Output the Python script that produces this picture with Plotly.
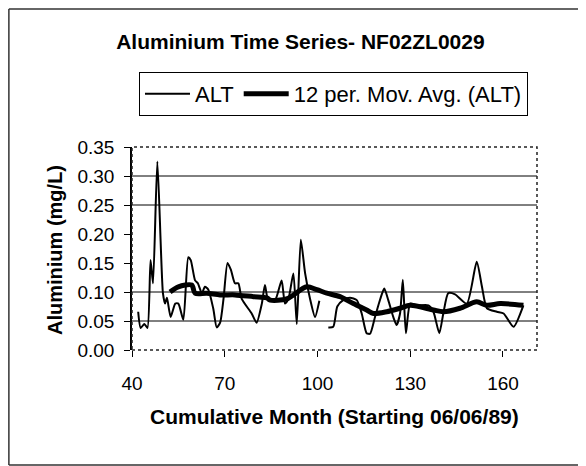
import plotly.graph_objects as go

# ALT series (cumulative month, mg/L); None marks the gap in sampling
alt_month = [42.0, 42.8, 44.0, 45.0, 46.0, 46.8, 48.2, 50.0, 50.7, 51.3, 52.5, 54.0, 55.0,
             56.6, 58.2, 59.0, 60.4, 61.3, 62.6, 63.6, 64.7, 66.3, 67.4, 68.5, 69.6, 70.9,
             72.0, 73.3, 74.4, 75.5, 78.7, 80.3, 82.0, 83.0, 84.1, 86.3, 88.4, 89.5, 90.6,
             92.2, 93.3, 94.6, 96.0, 97.6, 99.2, 100.6, 102.0, 103.5, 105.1, 106.4, 108.3,
             110.5, 112.7, 114.3, 115.9, 117.0, 118.6, 120.3, 121.6, 122.9, 124.5, 125.6,
             126.7, 127.6, 128.6, 130.0, 132.1, 135.9, 137.5, 139.4, 140.7, 142.3, 144.5,
             148.3, 151.5, 153.2, 154.8, 158.0, 160.2, 163.4, 166.6]
alt_value = [0.066, 0.038, 0.045, 0.038, 0.155, 0.115, 0.325, 0.098, 0.080, 0.090, 0.057,
             0.080, 0.080, 0.052, 0.160, 0.155, 0.120, 0.115, 0.098, 0.109, 0.104, 0.071,
             0.039, 0.047, 0.088, 0.150, 0.138, 0.115, 0.115, 0.088, 0.063, 0.047, 0.080,
             0.112, 0.085, 0.086, 0.120, 0.080, 0.088, 0.132, 0.045, 0.190, 0.132, 0.088,
             0.057, 0.085, None, 0.039, 0.040, 0.075, 0.086, 0.090, 0.086, 0.063, 0.029,
             0.028, 0.057, 0.088, 0.106, 0.086, 0.057, 0.043, 0.063, 0.121, 0.029, 0.080,
             0.077, 0.077, 0.066, 0.029, 0.063, 0.098, 0.096, 0.080, 0.152, 0.109, 0.072,
             0.066, 0.063, 0.040, 0.077]

# 12 period moving average
ma_month = [52.3, 55.0, 59.3, 60.4, 64.2, 68.5, 73.3, 79.3, 83.6, 84.7, 90.0, 96.5, 99.8,
            103.0, 107.3, 111.6, 115.9, 118.1, 122.4, 126.7, 130.0, 137.5, 140.7, 146.1,
            151.5, 154.8, 159.1, 166.6]
ma_value = [0.100, 0.109, 0.112, 0.098, 0.098, 0.095, 0.095, 0.092, 0.090, 0.086, 0.088,
            0.109, 0.104, 0.098, 0.092, 0.080, 0.069, 0.063, 0.066, 0.072, 0.077, 0.069,
            0.066, 0.072, 0.083, 0.077, 0.080, 0.077]

x_ticks = [40, 70, 100, 130, 160]
y_ticks = [0.00, 0.05, 0.10, 0.15, 0.20, 0.25, 0.30, 0.35]
grid_values = [0.05, 0.10, 0.25, 0.30]

FONT = "Liberation Sans, Arial, sans-serif"

fig = go.Figure()
fig.add_trace(go.Scatter(x=alt_month, y=alt_value, mode="lines", name="ALT",
                         line=dict(color="black", width=2, shape="spline", smoothing=0.6),
                         connectgaps=False))
fig.add_trace(go.Scatter(x=ma_month, y=ma_value, mode="lines", name="12 per. Mov. Avg. (ALT)",
                         line=dict(color="black", width=5, shape="spline", smoothing=0.8)))

shapes = []
for g in grid_values:
    shapes.append(dict(type="line", xref="paper", x0=0, x1=1, yref="y", y0=g, y1=g,
                       line=dict(color="black", width=1), layer="below"))
# dotted plot-area border
shapes.append(dict(type="rect", xref="paper", yref="paper", x0=0, x1=1, y0=0, y1=1,
                   line=dict(color="#222", width=1.5, dash="dot")))
# outer chart frame (top, left, bottom)
shapes.append(dict(type="line", xref="paper", yref="paper", x0=-0.304, x1=1.2, y0=1.68, y1=1.68,
                   line=dict(color="#333", width=1.5)))
shapes.append(dict(type="line", xref="paper", yref="paper", x0=-0.304, x1=-0.304, y0=1.68, y1=-0.5665,
                   line=dict(color="#333", width=1.5)))
shapes.append(dict(type="line", xref="paper", yref="paper", x0=-0.304, x1=1.2, y0=-0.5665, y1=-0.5665,
                   line=dict(color="#333", width=1.5)))

fig.update_layout(
    width=586, height=466,
    margin=dict(l=124, r=57, t=139, b=124),
    paper_bgcolor="white", plot_bgcolor="white",
    font=dict(family=FONT, size=19, color="black"),
    title=dict(text="<b>Aluminium Time Series- NF02ZL0029</b>", x=0.499, xanchor="center",
               y=0.927, yanchor="middle", font=dict(family=FONT, size=21, color="black")),
    showlegend=True,
    legend=dict(orientation="h", x=0.4975, xanchor="center", y=1.37, yanchor="top",
                bordercolor="black", borderwidth=1, bgcolor="white",
                font=dict(family=FONT, size=22, color="black"),
                itemwidth=45, tracegroupgap=0),
    shapes=shapes,
    annotations=[
        dict(text="<b>Cumulative Month (Starting 06/06/89)</b>", xref="paper", yref="paper",
             x=0.501, y=-0.33, xanchor="center", yanchor="middle", showarrow=False,
             font=dict(family=FONT, size=21, color="black")),
        dict(text="<b>Aluminium (mg/L)</b>", xref="paper", yref="paper",
             x=-0.19, y=0.493, xanchor="center", yanchor="middle", showarrow=False,
             textangle=-90, font=dict(family=FONT, size=20, color="black")),
    ],
)
fig.update_xaxes(range=[40, 171], tickvals=x_ticks, ticktext=[str(v) for v in x_ticks],
                 showgrid=False, zeroline=False, showline=False,
                 ticks="outside", ticklen=6, tickcolor="black", ticklabelstandoff=10,
                 tickfont=dict(family=FONT, size=19, color="black"))
fig.update_yaxes(range=[0, 0.35], tickvals=y_ticks, ticktext=[f"{v:.2f}" for v in y_ticks],
                 showgrid=False, zeroline=False, showline=True, linecolor="black", linewidth=1.5,
                 ticks="outside", ticklen=6, tickcolor="black", ticklabelstandoff=6,
                 tickfont=dict(family=FONT, size=19, color="black"))

fig.write_html("out.html")
